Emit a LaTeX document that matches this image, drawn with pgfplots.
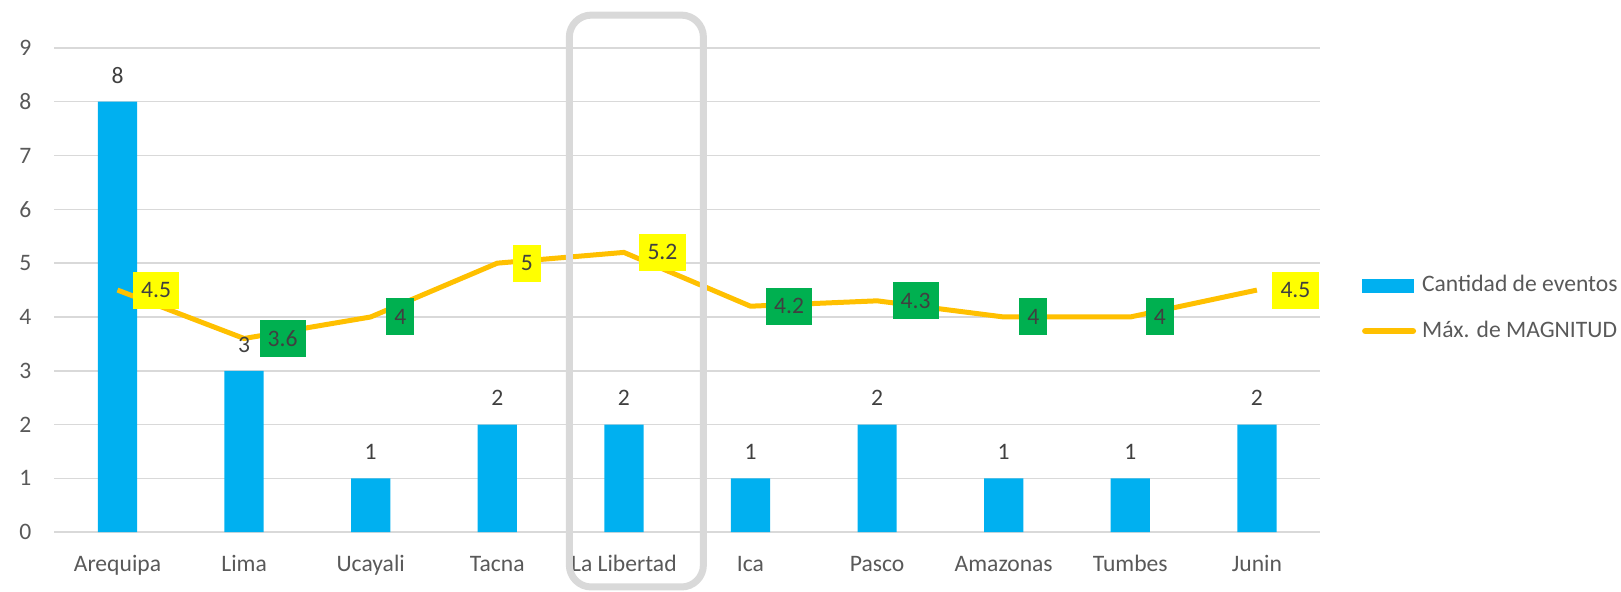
\documentclass[border=0pt]{standalone}
\usepackage{pgfplots}
\pgfplotsset{compat=1.18}
\usepackage{fontspec}
\setmainfont{Carlito}
\definecolor{barblue}{HTML}{00B0F0}
\definecolor{lineorange}{HTML}{FFC000}
\definecolor{lblyellow}{HTML}{FFFF00}
\definecolor{lblgreen}{HTML}{00B050}
\definecolor{gridgray}{HTML}{D9D9D9}
\definecolor{txt}{HTML}{595959}
\definecolor{lbltxt}{HTML}{404040}
\newcommand{\chartfont}{\fontsize{11.8}{14}\selectfont}

\begin{document}
\begin{tikzpicture}
\begin{axis}[
    scale only axis,
    width=633pt, height=242.15pt,
    xmin=-0.5, xmax=9.5, ymin=0, ymax=9,
    xtick={0,...,9},
    xticklabels={Arequipa, Lima, Ucayali, Tacna, La Libertad, Ica, Pasco, Amazonas, Tumbes, Junin},
    ytick={0,...,9},
    ymajorgrids,
    grid style={gridgray, line width=0.75pt},
    axis line style={draw=none},
    major tick length=0pt,
    /pgf/number format/assume math mode=true,
    tick label style={font=\chartfont, text=txt},
    xticklabel style={anchor=base, inner sep=0pt, yshift=-19.6pt},
    yticklabel style={anchor=east, inner sep=0pt, xshift=-11.2pt},
    clip=false,
    legend style={at={(1,0.467)}, anchor=west, xshift=20.75pt, yshift=-1.2pt,
        draw=none, fill=none, inner sep=0pt, row sep=11.6pt, column sep=3pt,
        font=\chartfont, text=txt,
        nodes={inner sep=0pt, text height=8.5pt, text depth=2.5pt},
        cells={anchor=west}},
]
% Cantidad de eventos
\addplot[ybar, bar width=19.6pt, fill=barblue, draw=none,
    nodes near coords,
    every node near coord/.append style={font=\chartfont,
        text=lbltxt, anchor=base, inner sep=0pt, yshift=9.3pt},
    legend image code/.code={\fill[barblue] (0pt,-3.5pt) rectangle (26pt,3.5pt);}]
    coordinates {(0,8) (1,3) (2,1) (3,2) (4,2) (5,1) (6,2) (7,1) (8,1) (9,2)};
\addlegendentry{Cantidad de eventos}

% Max. de MAGNITUD
\addplot[lineorange, line width=2.5pt, mark=none, sharp plot,
    legend image code/.code={\draw[lineorange, line width=3pt, line cap=round] (1.5pt,0pt) -- (25.5pt,0pt);}]
    coordinates {(0,4.5) (1,3.6) (2,4) (3,5) (4,5.2) (5,4.2) (6,4.3) (7,4) (8,4) (9,4.5)};
\addlegendentry{Máx. de MAGNITUD}

% etiquetas amarillas
\addplot[draw=none, mark=none, forget plot, nodes near coords,
    every node near coord/.append style={font=\chartfont,
        anchor=west, xshift=7.5pt, fill=lblyellow, text=lbltxt,
        inner xsep=4.1pt, inner ysep=0pt, minimum height=18.5pt}]
    coordinates {(0,4.5) (3,5) (4,5.2) (9,4.5)};
% etiquetas verdes
\addplot[draw=none, mark=none, forget plot, nodes near coords,
    every node near coord/.append style={font=\chartfont,
        anchor=west, xshift=7.5pt, fill=lblgreen, text=lbltxt,
        inner xsep=4.1pt, inner ysep=0pt, minimum height=18.5pt}]
    coordinates {(1,3.6) (2,4) (5,4.2) (6,4.3) (7,4) (8,4)};

\draw[gridgray, line width=3.5pt, rounded corners=11pt]
    (axis cs:3.569,9.61) rectangle (axis cs:4.628,-1.018);
\end{axis}
\pgfresetboundingbox
\useasboundingbox (-27.1pt,-29.4pt) rectangle (783.4pt,266.1pt);
\end{tikzpicture}
\end{document}
